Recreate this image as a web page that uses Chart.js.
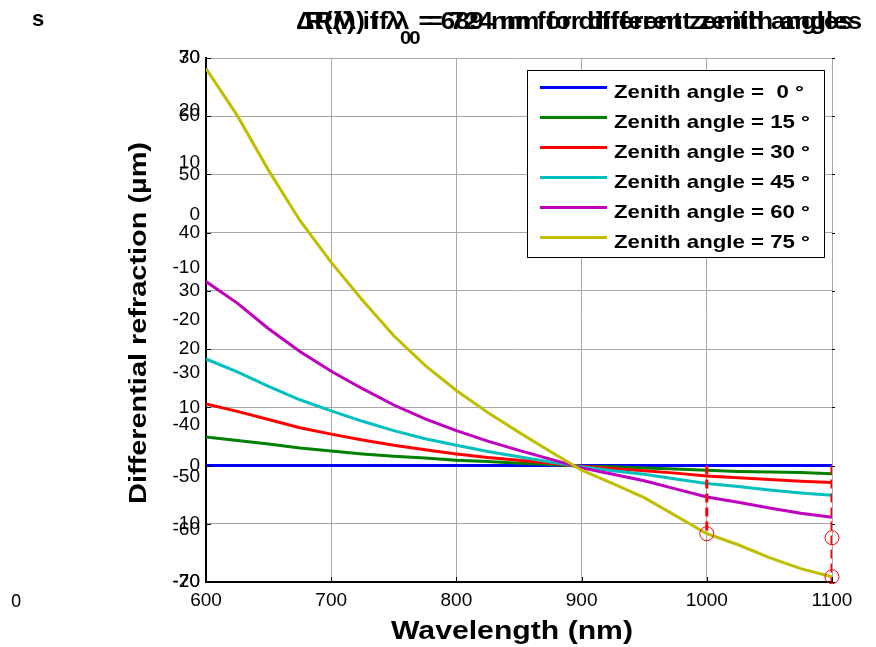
<!DOCTYPE html>
<html>
<head>
<meta charset="utf-8">
<script src="https://cdn.jsdelivr.net/npm/chart.js@4.4.0/dist/chart.umd.min.js"></script>
<style>
  html, body { margin: 0; padding: 0; background: #fff; }
  #wrap { width: 876px; height: 647px; }
</style>
</head>
<body>
<div id="wrap"><canvas id="myChart" width="876" height="647"></canvas></div>
<script>
// Differential refraction vs wavelength, one curve per zenith angle
const wavelengths = [600, 625, 650, 675, 700, 725, 750, 775, 800, 825, 850, 875, 900, 925, 950, 975, 1000, 1025, 1050, 1075, 1100];
const zenithAngles = [' 0', '15', '30', '45', '60', '75'];
const za0  = [0, 0, 0, 0, 0, 0, 0, 0, 0, 0, 0, 0, 0, 0, 0, 0, 0, 0, 0, 0, 0];
const za15 = [4.9, 4.3, 3.7, 3.0, 2.5, 2.0, 1.6, 1.3, 0.9, 0.7, 0.4, 0.2, -0.1, -0.2, -0.4, -0.6, -0.8, -1.0, -1.1, -1.2, -1.4];
const za30 = [10.6, 9.3, 7.9, 6.5, 5.4, 4.4, 3.5, 2.7, 2.0, 1.4, 0.9, 0.4, -0.1, -0.5, -0.9, -1.3, -1.8, -2.1, -2.4, -2.7, -2.9];
const za45 = [18.3, 16.1, 13.6, 11.3, 9.4, 7.6, 6.0, 4.6, 3.5, 2.4, 1.5, 0.6, -0.2, -0.9, -1.5, -2.3, -3.1, -3.6, -4.2, -4.7, -5.1];
const za60 = [31.6, 27.9, 23.5, 19.6, 16.2, 13.2, 10.4, 8.0, 6.0, 4.2, 2.6, 1.1, -0.4, -1.5, -2.6, -4.0, -5.4, -6.3, -7.3, -8.2, -8.9];
const za75 = [68.2, 60.1, 50.7, 42.1, 34.9, 28.4, 22.3, 17.2, 12.9, 9.1, 5.7, 2.4, -0.8, -3.1, -5.5, -8.6, -11.7, -13.6, -15.8, -17.7, -19.1];

// red drop lines and circle markers
const dropX = [1000, 1100];
const dropY = [-11.7, -20];
const markerX = [1000, 1100, 1100];
const markerY = [-11.7, -19.1, -12.4];

// tick labels: the main axis and a second, leftover axis drawn on top of it
const xTicks = [600, 700, 800, 900, 1000, 1100];
const yTicks = [-20, -10, 0, 10, 20, 30, 40, 50, 60, 70];
const yTicksOverlay = [-70, -60, -50, -40, -30, -20, -10, 0, 10, 20, 30];

const colors = ['#0000ff', '#008000', '#ff0000', '#00bfbf', '#bf00bf', '#bfbf00'];
const series = [za0, za15, za30, za45, za60, za75];

const FONT = "'Liberation Sans', Arial, sans-serif";

const datasets = series.map((vals, i) => ({
  label: 'Zenith angle = ' + zenithAngles[i] + ' °',
  data: wavelengths.map((w, k) => ({ x: w, y: vals[k] })),
  borderColor: colors[i],
  borderWidth: 3,
  pointRadius: 0,
  showLine: true,
  fill: false,
  tension: 0,
  order: 10 - i
}));

dropX.forEach((x, i) => {
  datasets.push({
    label: 'drop' + i,
    data: [{ x: x, y: 0 }, { x: x, y: dropY[i] }],
    borderColor: '#ff0000',
    borderWidth: 3,
    borderDash: [9, 5],
    pointRadius: 0,
    showLine: true,
    order: 1
  });
});

datasets.push({
  label: 'markers',
  data: markerX.map((x, i) => ({ x: x, y: markerY[i] })),
  showLine: false,
  pointRadius: 7,
  pointBorderColor: '#ff0000',
  pointBackgroundColor: 'rgba(0,0,0,0)',
  pointBorderWidth: 1,
  clip: false,
  order: 0
});

// draw text stretched to a given width
function fitText(ctx, text, x, y, width, align) {
  const w = ctx.measureText(text).width;
  ctx.save();
  ctx.translate(x, y);
  ctx.scale(width / w, 1);
  ctx.textAlign = align;
  ctx.fillText(text, 0, 0);
  ctx.restore();
}

// title line with a subscript zero after lambda, centred on cx
function drawTitle(ctx, before, after, cx, sx) {
  const big = 'bold 24px ' + FONT, small = 'bold 19px ' + FONT;
  ctx.font = big; const w1 = ctx.measureText(before).width;
  ctx.font = small; const w2 = ctx.measureText('0').width;
  ctx.font = big; const w3 = ctx.measureText(after).width;
  const total = (w1 + w2 + w3) * sx;
  ctx.save();
  ctx.translate(cx - total / 2, 29);
  ctx.scale(sx, 1);
  ctx.textAlign = 'left';
  ctx.font = big; ctx.fillText(before, 0, 0);
  ctx.font = small; ctx.fillText('0', w1, 15);
  ctx.font = big; ctx.fillText(after, w1 + w2, 0);
  ctx.restore();
  return w1 + w2 + w3;
}

const decorations = {
  id: 'decorations',
  afterDraw(chart) {
    const ctx = chart.ctx;
    const a = chart.chartArea;
    const xs = chart.scales.x, ys = chart.scales.y, ys2 = chart.scales.y2;
    ctx.save();
    ctx.fillStyle = '#000';

    // labels of the second, overlapping y axis
    ctx.font = '19px ' + FONT;
    ctx.textAlign = 'right';
    ctx.textBaseline = 'middle';
    yTicksOverlay.forEach(v => ctx.fillText(String(v), a.left - 6, ys2.getPixelForValue(v)));
    ctx.textBaseline = 'alphabetic';

    // inward tick marks
    ctx.strokeStyle = '#000';
    ctx.lineWidth = 1;
    ctx.beginPath();
    yTicks.forEach(v => {
      const py = Math.round(ys.getPixelForValue(v)) + 0.5;
      ctx.moveTo(a.left, py); ctx.lineTo(a.left + 5, py);
      ctx.moveTo(a.right, py); ctx.lineTo(a.right + 3, py);
    });
    xTicks.forEach(v => {
      const px = Math.round(xs.getPixelForValue(v)) + 0.5;
      ctx.moveTo(px, a.bottom); ctx.lineTo(px, a.bottom - 5);
    });
    ctx.stroke();

    // two overlapping titles
    const t1 = ['ΔR(λ) if λ', ' = 724 nm for different zenith angles'];
    const t2 = ['R(λ) if λ', ' = 689 nm for different zenith angles'];
    ctx.globalAlpha = 0;
    const raw = drawTitle(ctx, t1[0], t1[1], 579, 1);
    ctx.globalAlpha = 1;
    const sx = 566 / raw;
    drawTitle(ctx, t1[0], t1[1], 579, sx);
    drawTitle(ctx, t2[0], t2[1], 579, sx);

    // leftover labels of hidden axes
    ctx.font = 'bold 22px ' + FONT;
    ctx.textAlign = 'left';
    ctx.fillText('s', 32, 26);
    ctx.font = "18px 'Noto Sans', 'DejaVu Sans', sans-serif";
    ctx.fillText('0', 11, 607);

    // axis titles
    ctx.font = 'bold 25px ' + FONT;
    fitText(ctx, 'Wavelength (nm)', 512, 639, 242, 'center');
    ctx.save();
    ctx.translate(146, 323);
    ctx.rotate(-Math.PI / 2);
    ctx.font = 'bold 24px ' + FONT;
    fitText(ctx, 'Differential refraction (µm)', 0, 0, 362, 'center');
    ctx.restore();

    // legend
    const lx = 527, ly = 70, lw = 297, lh = 187;
    ctx.fillStyle = '#fff';
    ctx.fillRect(lx, ly, lw, lh);
    ctx.strokeStyle = '#000';
    ctx.lineWidth = 1;
    ctx.strokeRect(lx + 0.5, ly + 0.5, lw, lh);
    ctx.font = 'bold 19px ' + FONT;
    const lsx = 196 / ctx.measureText('Zenith angle = 15 °').width;
    for (let i = 0; i < 6; i++) {
      const rowY = 87.5 + i * 30;
      ctx.strokeStyle = colors[i];
      ctx.lineWidth = 3;
      ctx.beginPath();
      ctx.moveTo(540, rowY); ctx.lineTo(607, rowY);
      ctx.stroke();
      ctx.fillStyle = '#000';
      const txt = chart.data.datasets[i].label;
      ctx.save();
      ctx.translate(614, rowY + 10);
      ctx.scale(lsx, 1);
      ctx.textAlign = 'left';
      ctx.fillText(txt, 0, 0);
      ctx.restore();
    }
    ctx.restore();
  }
};

const tickFont = { family: FONT, size: 19 };
const plain = v => String(v);

const config = {
  type: 'scatter',
  data: { datasets: datasets },
  options: {
    responsive: false,
    animation: false,
    events: [],
    layout: { padding: { top: 58, right: 44, left: 0, bottom: 0 } },
    plugins: { legend: { display: false }, tooltip: { enabled: false } },
    scales: {
      x: {
        type: 'linear', min: 600, max: 1100,
        afterBuildTicks: s => { s.ticks = xTicks.map(v => ({ value: v })); },
        afterFit: s => { s.height = 65; },
        grid: { color: '#a8a8a8', drawTicks: false },
        border: { color: '#000', width: 2 },
        ticks: { color: '#000', font: tickFont, padding: 7, autoSkip: false, maxRotation: 0, callback: plain }
      },
      y: {
        type: 'linear', position: 'left', min: -20, max: 70,
        afterBuildTicks: s => { s.ticks = yTicks.map(v => ({ value: v })); },
        afterFit: s => { s.width = 206; },
        grid: { color: '#a8a8a8', drawTicks: false },
        border: { color: '#000', width: 2 },
        ticks: { color: '#000', font: tickFont, padding: 6, autoSkip: false, callback: plain }
      },
      y2: {
        type: 'linear', position: 'left', min: -70, max: 30,
        afterFit: s => { s.width = 0; },
        grid: { display: false, drawTicks: false },
        border: { display: false },
        ticks: { display: false }
      }
    }
  },
  plugins: [decorations]
};

new Chart(document.getElementById('myChart'), config);
</script>
</body>
</html>
